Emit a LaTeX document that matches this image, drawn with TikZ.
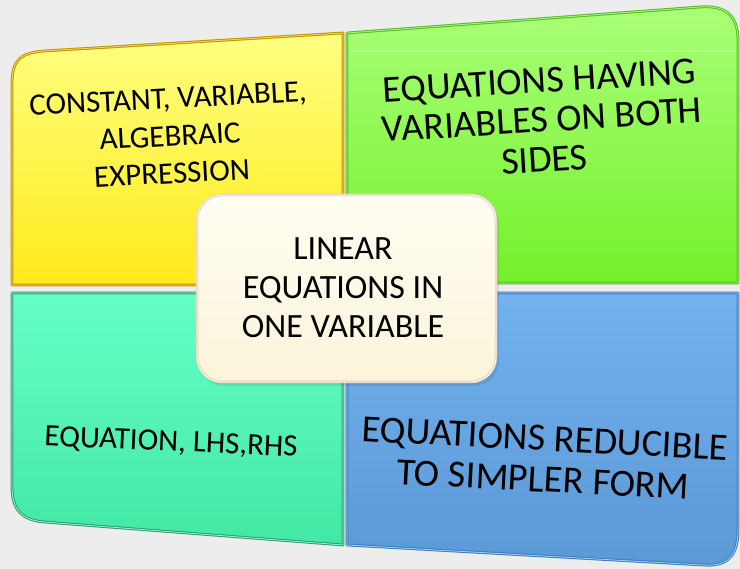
\documentclass[tikz,border=0pt]{standalone}
\usepackage{fontspec}
\setmainfont{Carlito}
\begin{document}
\begin{tikzpicture}[x=1pt,y=-1pt,
  quad/.style={line width=2.8pt, line join=round},
  hl/.style={line width=0.8pt, line join=round},
  lbl/.style={align=center, text=black, inner sep=0pt}]
\definecolor{bg}{HTML}{EDEDED}
\definecolor{yTop}{HTML}{FFFF82}
\definecolor{yBot}{HTML}{FFEA1A}
\definecolor{yDark}{HTML}{BF9500}
\definecolor{yLight}{HTML}{F8DA50}
\definecolor{gTop}{HTML}{AAFF78}
\definecolor{gBot}{HTML}{74F02C}
\definecolor{gDark}{HTML}{56BC24}
\definecolor{gLight}{HTML}{A8F880}
\definecolor{aTop}{HTML}{66FFC6}
\definecolor{aBot}{HTML}{42E8A4}
\definecolor{aDark}{HTML}{2E9E72}
\definecolor{aLight}{HTML}{9AF5D4}
\definecolor{bTop}{HTML}{72B2EE}
\definecolor{bBot}{HTML}{5A98D6}
\definecolor{bDark}{HTML}{3C7CBE}
\definecolor{bLight}{HTML}{A4D0F4}
\definecolor{cTop}{HTML}{FFFEF2}
\definecolor{cBot}{HTML}{FCF4DA}
\definecolor{cDark}{HTML}{E2CCB4}
\useasboundingbox (0,0) rectangle (740,569);
\fill[bg] (0,0) rectangle (740,569);
% yellow
\path[quad, top color=yTop, bottom color=yBot, draw=yDark]
  (12,285) -- (12,84) .. controls (12,60) and (20,53) .. (44,51) -- (343,33) -- (343,285) -- cycle;
\path[hl, draw=yLight]
  (12,285) -- (12,84) .. controls (12,60) and (20,53) .. (44,51) -- (343,33) -- (343,285) -- cycle;
% green
\path[quad, top color=gTop, bottom color=gBot, draw=gDark]
  (347,283) -- (347,33) -- (700,7) .. controls (725,5) and (738,15) .. (738,40) -- (738,283) -- cycle;
\path[hl, draw=gLight]
  (347,283) -- (347,33) -- (700,7) .. controls (725,5) and (738,15) .. (738,40) -- (738,283) -- cycle;
\draw[white, opacity=0.6, line width=0.6pt] (349,51) -- (736,51);
% aqua
\path[quad, top color=aTop, bottom color=aBot, draw=aDark]
  (12,293) -- (12,487) .. controls (12,510) and (22,520) .. (44,522) -- (343,545) -- (343,293) -- cycle;
\path[hl, draw=aLight]
  (12,293) -- (12,487) .. controls (12,510) and (22,520) .. (44,522) -- (343,545) -- (343,293) -- cycle;
% blue
\path[quad, top color=bTop, bottom color=bBot, draw=bDark]
  (347,293) -- (347,545) -- (703,565) .. controls (728,567) and (738,555) .. (738,530) -- (738,293) -- cycle;
\path[hl, draw=bLight]
  (347,293) -- (347,545) -- (703,565) .. controls (728,567) and (738,555) .. (738,530) -- (738,293) -- cycle;
% texts
\node[lbl, rotate=3, font=\fontsize{31}{37.5}\selectfont] (t1) at (170,136) {CONSTANT, VARIABLE,\\ALGEBRAIC\\EXPRESSION};
\node[lbl, rotate=3.5, font=\fontsize{38}{39.5}\selectfont] (t2) at (542,120) {EQUATIONS HAVING\\VARIABLES ON BOTH\\SIDES};
\node[lbl, rotate=-2.5, font=\fontsize{31}{37}\selectfont] (t3) at (171,443) {EQUATION, LHS,RHS};
\node[lbl, rotate=-3, font=\fontsize{38.4}{41}\selectfont] (t4) at (544,459) {EQUATIONS REDUCIBLE\\TO SIMPLER FORM};
% centre
\fill[black, opacity=0.08, rounded corners=25pt] (199,198) rectangle (499,386);
\path[rounded corners=25pt, top color=cTop, bottom color=cBot, draw=cDark, line width=2.5pt]
  (197,195) rectangle (496,382);
\draw[white, line width=0.8pt, rounded corners=25pt] (197,195) rectangle (496,382);
\node[lbl, font=\fontsize{34}{39}\selectfont] (c) at (343,288) {LINEAR\\EQUATIONS IN\\ONE VARIABLE};
\end{tikzpicture}
\end{document}
